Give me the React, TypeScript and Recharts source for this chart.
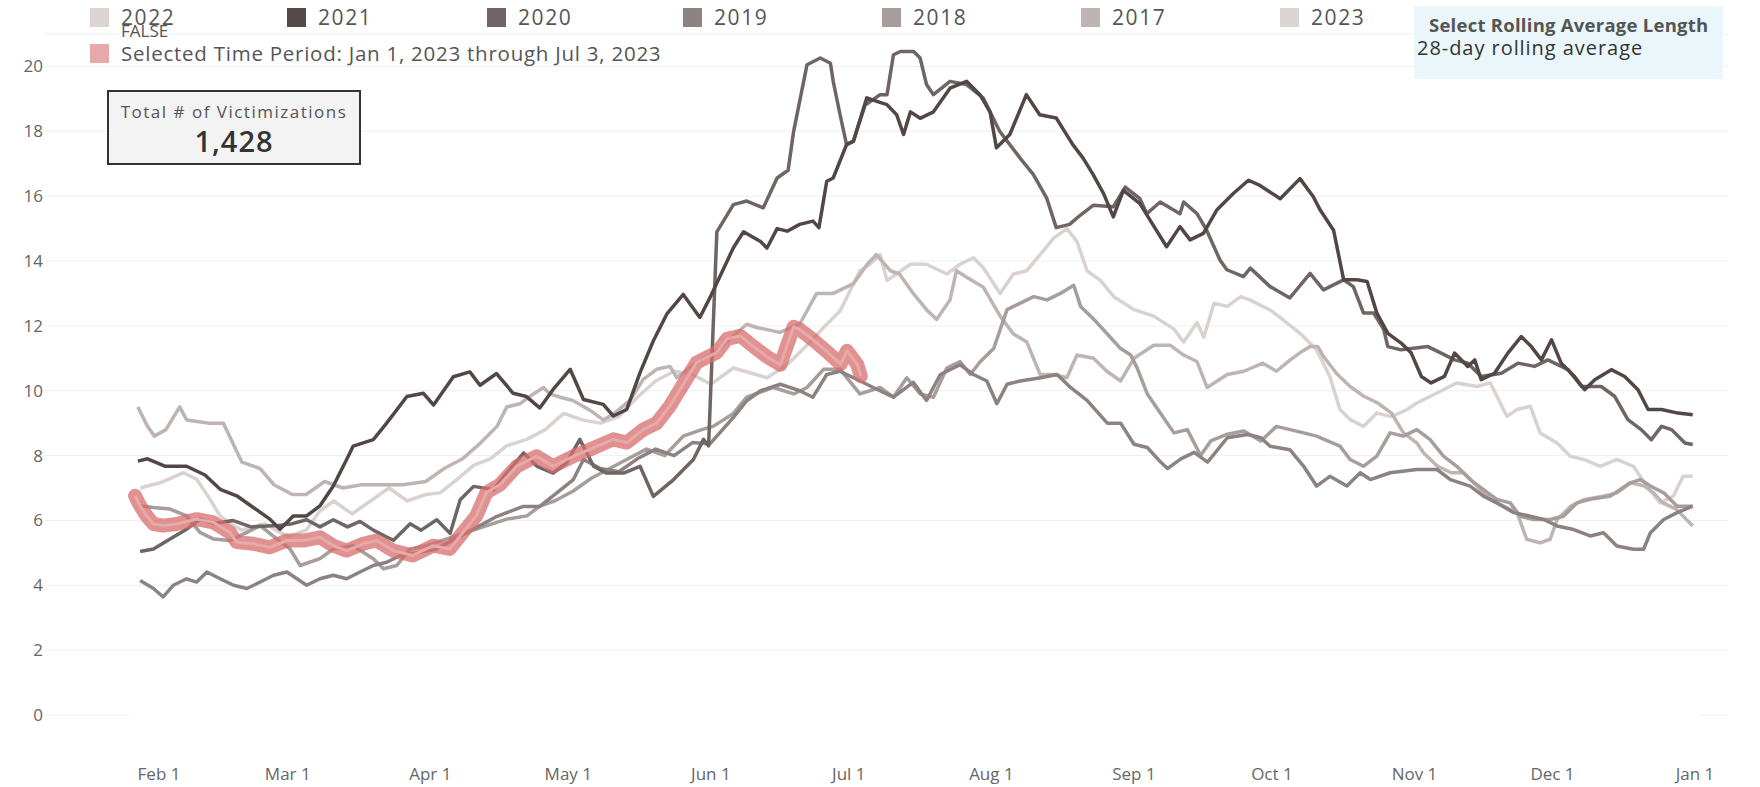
import React from 'react';
import { LineChart, Line, XAxis, YAxis, CartesianGrid, ReferenceLine } from 'recharts';

// day of year -> 28-day rolling average of victimizations per day
const MONTH_TICKS = [32, 60, 91, 121, 152, 182, 213, 244, 274, 305, 335, 366];
const MONTH_LABELS = ['Feb 1', 'Mar 1', 'Apr 1', 'May 1', 'Jun 1', 'Jul 1', 'Aug 1', 'Sep 1', 'Oct 1', 'Nov 1', 'Dec 1', 'Jan 1'];
const Y_TICKS = [0, 2, 4, 6, 8, 10, 12, 14, 16, 18, 20];

const y2022: [number, number][] = [
  [27.9, 7.0], [32.2, 7.16], [37.3, 7.47], [40.2, 7.27], [43.1, 6.65], [45.3, 6.14], [48.2, 5.84], [50, 5.7], [55, 5.9], [60, 5.5],
  [64, 5.7], [67, 6.3], [70, 6.6], [74, 6.2], [78, 6.6], [82, 7.0], [86, 6.6], [90, 6.8], [93.1, 6.85], [96.7, 7.25],
  [100.4, 7.7], [104, 7.9], [107.6, 8.3], [112, 8.5], [116, 8.8], [120, 9.3], [124, 9.1], [128, 9.0], [132, 9.2], [136, 9.8],
  [140, 10.3], [144, 10.6], [148, 10.5], [152, 10.2], [156.9, 10.7], [164.2, 10.4], [168.6, 10.8], [172.9, 11.4], [177.2, 12.05], [180.1, 12.46],
  [184.4, 13.7], [186.6, 13.9], [188.8, 14.2], [190.3, 13.4], [195.4, 13.9], [198.9, 13.9], [203.3, 13.6], [206.2, 13.9], [209.1, 14.1], [211.2, 13.8],
  [214.9, 13.0], [217.8, 13.6], [220.7, 13.7], [223.6, 14.2], [226.5, 14.7], [229.4, 15.0], [231.6, 14.6], [233.8, 13.7], [236.7, 13.4], [239.6, 12.9],
  [244, 12.5], [248.3, 12.3], [252.7, 11.9], [254.8, 11.5], [257.7, 12.1], [259.2, 11.65], [261.4, 12.7], [264.3, 12.6], [267.2, 12.9], [269.2, 12.8],
  [273.6, 12.49], [276.5, 12.18], [280.1, 11.77], [283.7, 11.26], [286.6, 10.44], [288.8, 9.42], [291, 9.11], [293.9, 8.9], [296.8, 9.31], [300, 9.2],
  [303.4, 9.42], [305.5, 9.62], [309.9, 9.93], [314.2, 10.24], [318.6, 10.13], [321.5, 10.24], [325.1, 9.21], [327.3, 9.42], [330.2, 9.52], [332.3, 8.7],
  [336, 8.39], [338.9, 7.98], [341.8, 7.88], [345.4, 7.67], [349, 7.88], [352.6, 7.67], [355.5, 7.06], [358.4, 6.54], [361.3, 6.75], [363.4, 7.36], [365.5, 7.36],
];

const y2017: [number, number][] = [
  [27.4, 9.5], [29.5, 8.9], [31, 8.6], [33.5, 8.8], [36.5, 9.5], [38, 9.1], [43, 9.0], [46, 9.0], [50, 7.8], [54, 7.6],
  [57, 7.1], [61, 6.8], [64, 6.8], [68, 7.2], [72, 7.0], [76, 7.1], [80, 7.1], [85, 7.1], [90, 7.2], [94, 7.6],
  [98, 7.9], [102, 8.4], [105.5, 8.9], [107.6, 9.5], [110.5, 9.6], [113.4, 9.9], [115.6, 10.1], [117, 9.9], [119.2, 9.8], [122, 9.7],
  [125.7, 9.4], [128.6, 9.1], [131, 9.3], [134.4, 9.7], [137.3, 10.35], [140.2, 10.66], [143.1, 10.75], [144.6, 10.4], [148.2, 10.8], [153, 11.2],
  [159.8, 12.05], [162, 11.95], [167, 11.8], [171.3, 12.05], [175, 13.0], [178.6, 13.0], [183, 13.3], [186, 13.9], [188, 14.2], [191, 13.7],
  [193, 13.6], [196, 13.0], [198.9, 12.5], [201.1, 12.2], [204, 12.8], [205.4, 13.7], [207.6, 13.5], [211.2, 13.2], [214.9, 12.3], [217.8, 11.75],
  [220.7, 11.5], [223.6, 10.5], [226.5, 10.5], [229.4, 10.4], [231.6, 11.1], [235.2, 11.0], [238.1, 10.6], [241.1, 10.3], [244, 11.0], [248.3, 11.4],
  [251.9, 11.4], [254.8, 11.1], [257.7, 10.9], [259.9, 10.1], [264.3, 10.5], [267.9, 10.6], [272, 10.85], [275, 10.6], [278, 10.95], [280, 11.16],
  [282.3, 11.36], [284, 11.36], [285.2, 11.06], [288, 10.54], [291, 10.13], [294, 9.83], [297, 9.62], [300, 9.31], [302.6, 8.7], [305.5, 8.39],
  [307, 8.08], [310, 7.67], [313, 7.47], [315.7, 7.47], [318.6, 7.06], [321.5, 6.65], [324.4, 6.44], [327.3, 6.24], [329.4, 5.42], [332.3, 5.31],
  [334.5, 5.42], [336, 6.03], [339, 6.44], [342, 6.65], [346, 6.75], [349, 6.85], [352, 7.16], [355, 7.06], [357, 6.85], [359, 6.54], [362, 6.34], [365.5, 5.83],
];

const y2018: [number, number][] = [
  [27.9, 6.45], [30.8, 6.4], [34.4, 6.35], [38, 6.14], [40.9, 5.63], [43.8, 5.43], [47.4, 5.38], [51.1, 5.63], [54, 5.84], [57.6, 5.43],
  [60.5, 5.12], [62.7, 4.61], [67, 4.82], [69.9, 5.12], [74.2, 5.22], [78.6, 4.82], [80.8, 4.51], [83.7, 4.61], [86.6, 5.12], [90.2, 5.22],
  [94.6, 5.43], [98.9, 5.63], [103.3, 5.84], [107.6, 6.04], [112, 6.14], [114.9, 6.45], [118, 6.6], [122, 6.9], [126, 7.3], [130, 7.6],
  [134, 7.9], [138, 8.2], [142, 8.0], [146, 8.6], [150, 8.8], [152.5, 8.9], [156.9, 9.3], [159.8, 9.8], [165.6, 10.1], [170, 9.9],
  [172.9, 10.1], [176.5, 10.66], [180.1, 10.66], [184.4, 9.9], [188.8, 10.1], [191.7, 9.8], [194.6, 10.4], [197.5, 9.9], [200.4, 9.8], [203.3, 10.7],
  [206.2, 10.9], [208.4, 10.5], [210.6, 10.9], [213.5, 11.3], [216.4, 12.5], [222.2, 12.9], [225.1, 12.8], [228, 13.0], [230.9, 13.25], [232.4, 12.6],
  [235.3, 12.2], [238.2, 11.75], [241.1, 11.3], [243.3, 11.1], [244.7, 10.7], [246.9, 9.9], [249.8, 9.3], [252.7, 8.7], [255.6, 8.8], [258.5, 8.0],
  [260.7, 8.45], [264.3, 8.66], [267.9, 8.76], [271.6, 8.45], [275, 8.9], [280.9, 8.7], [283.7, 8.6], [288.8, 8.29], [291, 7.88], [293.9, 7.67],
  [296.8, 7.98], [299.7, 8.7], [302.6, 8.6], [305.5, 8.8], [308.4, 8.49], [311.3, 7.98], [314.2, 7.67], [317.1, 7.26], [320, 6.95], [322.9, 6.65],
  [325.8, 6.54], [328, 6.13], [330.9, 6.03], [334.5, 6.03], [337.4, 6.13], [340.3, 6.54], [343.2, 6.65], [347.6, 6.75], [351.9, 7.16], [354.1, 7.26],
  [356.3, 7.06], [359.2, 6.85], [362.1, 6.44], [365.5, 6.44],
];

const y2019: [number, number][] = [
  [27.9, 4.15], [30.8, 3.9], [32.9, 3.64], [35.1, 4.0], [38, 4.2], [40.2, 4.1], [42.4, 4.41], [45.3, 4.2], [48.2, 4.0], [51.1, 3.9],
  [54, 4.1], [56.9, 4.31], [59.8, 4.41], [62, 4.2], [64.1, 4.0], [67, 4.2], [69.9, 4.31], [72.8, 4.2], [75.7, 4.41], [78.6, 4.61],
  [81.5, 4.71], [84.5, 4.92], [88, 5.0], [92, 5.1], [96, 5.4], [100, 5.7], [105.4, 6.12], [111.2, 6.43], [114.8, 6.43], [118.5, 6.85],
  [122.1, 7.26], [124.3, 7.88], [128, 7.6], [132, 7.5], [136, 7.9], [140, 8.2], [144, 8.0], [148, 8.4], [151.8, 8.36], [156.9, 9.18],
  [159.8, 9.69], [162.8, 10.0], [167.1, 10.2], [171.3, 10.0], [174.2, 9.8], [177.2, 10.5], [180.1, 10.6], [183, 10.4], [185.9, 10.2], [187.3, 10.1],
  [191.7, 9.8], [196, 10.26], [198.9, 9.7], [201.9, 10.5], [206.2, 10.8], [209.1, 10.5], [212, 10.3], [214.2, 9.6], [216.4, 10.2], [219.3, 10.3],
  [223.7, 10.4], [227.3, 10.5], [230.2, 10.1], [233.8, 9.7], [238.2, 9.0], [241.1, 9.0], [244, 8.35], [246.9, 8.25], [249.8, 7.8], [251.3, 7.6],
  [254.2, 7.9], [257.1, 8.1], [260, 7.8], [264.3, 8.55], [268.7, 8.65], [271.6, 8.55], [273.6, 8.29], [277.9, 8.18], [280.9, 7.67], [283.7, 7.06],
  [286.6, 7.36], [290.3, 7.06], [293.2, 7.47], [295.4, 7.26], [299.7, 7.47], [305.5, 7.57], [309.9, 7.57], [312.8, 7.26], [317.1, 7.06], [320, 6.75],
  [322.9, 6.54], [326.6, 6.24], [330.2, 6.13], [333.1, 6.03], [336, 5.83], [339.6, 5.72], [343.2, 5.52], [346.1, 5.62], [349, 5.21], [352.6, 5.11],
  [354.8, 5.11], [356.3, 5.62], [359.2, 6.03], [362.1, 6.24], [365.5, 6.44],
];

const y2020: [number, number][] = [
  [27.9, 5.04], [30.8, 5.12], [34.4, 5.43], [38, 5.73], [40.9, 6.04], [44, 5.9], [48, 6.0], [52, 5.8], [57.6, 5.84], [61, 5.9],
  [64.1, 6.02], [67, 5.8], [69.9, 6.02], [73, 5.8], [75.7, 5.97], [78.6, 5.7], [81.5, 5.49], [83, 5.39], [86.6, 5.9], [89, 5.7],
  [92.4, 6.02], [95.3, 5.6], [97.5, 6.64], [100.4, 7.05], [104.7, 6.95], [107.6, 7.46], [111.3, 8.08], [114.2, 7.67], [117.7, 7.46], [120.6, 7.77],
  [123.5, 8.5], [126.5, 7.67], [129.3, 7.46], [133, 7.46], [136.6, 7.67], [139.5, 6.74], [143.9, 7.26], [148.2, 7.88], [150.4, 8.5], [151.5, 8.3],
  [153.3, 14.9], [156.9, 15.74], [159.8, 15.85], [163.4, 15.64], [166.4, 16.56], [168.8, 16.8], [170, 18.0], [172.9, 20.05], [175.8, 20.26], [178, 20.1],
  [178.6, 19.54], [180.1, 18.51], [181.5, 17.59], [183, 17.7], [185.5, 18.8], [188.8, 19.13], [190.3, 19.13], [191.7, 20.36], [193.2, 20.46], [196.1, 20.46],
  [197.5, 20.26], [198.9, 19.44], [200.4, 19.13], [204, 19.54], [207.6, 19.44], [211.2, 19.03], [214.8, 18.0], [219.2, 17.18], [222.1, 16.67], [225, 15.95],
  [227.1, 15.03], [230, 15.13], [232.3, 15.41], [235.2, 15.72], [239.5, 15.67], [242.1, 16.28], [245.3, 15.92], [246.8, 15.46], [249.7, 15.82], [254, 15.46],
  [254.8, 15.82], [257.7, 15.46], [259.8, 14.95], [262.7, 14.03], [264.2, 13.73], [267.8, 13.52], [269.3, 13.78], [273.6, 13.21], [277.9, 12.86], [282.3, 13.62],
  [285.2, 13.11], [289.6, 13.42], [291.7, 13.21], [293.9, 12.4], [296.1, 12.4], [298.3, 11.89], [299.2, 11.36], [302.1, 11.26], [307.9, 11.36], [310.8, 11.16],
  [313.7, 10.95], [316.6, 10.85], [319.5, 10.44], [323.9, 10.54], [327.5, 10.85], [331.1, 10.75], [334, 10.95], [338.4, 10.65], [341.3, 10.13], [345.6, 10.13],
  [348.5, 9.83], [351.4, 9.11], [354.3, 8.8], [356.5, 8.49], [358.7, 8.9], [360.9, 8.8], [363.8, 8.39], [365.5, 8.34],
];

const y2021: [number, number][] = [
  [27.4, 7.83], [29.5, 7.9], [33.4, 7.67], [38, 7.67], [42, 7.4], [45.3, 6.96], [48.9, 6.76], [52.5, 6.4], [56.1, 6.04], [58.3, 5.73],
  [61.2, 6.14], [64.1, 6.14], [67, 6.45], [69.9, 7.06], [72.8, 7.88], [74.2, 8.29], [78.6, 8.49], [81.5, 9.0], [85.9, 9.82], [89.5, 9.92],
  [91.7, 9.56], [96, 10.43], [99.6, 10.58], [101.8, 10.17], [105.4, 10.53], [109, 9.92], [111.9, 9.82], [114.8, 9.47], [117.7, 10.04], [121.4, 10.66],
  [124.3, 9.73], [128.6, 9.58], [130.8, 9.22], [133.7, 9.42], [136.6, 10.56], [139.5, 11.54], [142.4, 12.36], [146, 12.97], [149.6, 12.26], [151.8, 12.87],
  [156.9, 14.41], [159.1, 14.9], [162.8, 14.6], [164.2, 14.4], [166.4, 15.0], [168.6, 14.92], [171.3, 15.13], [174.2, 15.23], [175.5, 15.03], [177.2, 16.46],
  [178.6, 16.56], [181.5, 17.59], [183, 17.69], [185.9, 19.03], [188.1, 18.92], [190.3, 18.82], [192.4, 18.51], [193.9, 17.9], [195.4, 18.6], [197.5, 18.4],
  [200.4, 18.6], [204, 19.33], [207.6, 19.54], [210.5, 19.13], [212.7, 18.6], [214.1, 17.49], [217, 17.9], [220.6, 19.13], [223.5, 18.51], [227.1, 18.41],
  [230.7, 17.59], [232.9, 17.18], [235.1, 16.67], [237.4, 16.08], [239.5, 15.36], [241.7, 16.18], [245.3, 15.77], [247.5, 15.26], [251.1, 14.44], [254, 15.06],
  [256.2, 14.65], [259.1, 14.85], [262, 15.57], [265.6, 16.08], [268.9, 16.49], [271.4, 16.33], [275.8, 15.92], [280.1, 16.54], [283, 15.98], [284.5, 15.57],
  [287.4, 14.95], [289.6, 13.42], [292.5, 13.42], [294.7, 13.37], [296.8, 12.4], [299.2, 11.77], [302.1, 11.47], [304.3, 11.16], [306.5, 10.44], [308.6, 10.24],
  [311.5, 10.44], [313.7, 11.16], [316.6, 10.75], [318.1, 10.95], [319.5, 10.34], [322.4, 10.54], [325.3, 11.16], [328.2, 11.67], [330.4, 11.36], [332.6, 10.95],
  [334.8, 11.57], [336.9, 10.85], [339.8, 10.44], [342, 10.03], [344.2, 10.34], [347.8, 10.65], [350.7, 10.44], [353.6, 10.03], [355.8, 9.42], [358.7, 9.42],
  [362.3, 9.31], [365.5, 9.26],
];

// 2023 runs Jan 1 - Jul 3 (the selected time period)
const y2023: [number, number][] = [
  [26.8, 6.76], [27.9, 6.45], [29.3, 6.14], [30.8, 5.89], [32.9, 5.84], [35.8, 5.89], [40.2, 6.04], [43.8, 5.94], [47.4, 5.63], [48.9, 5.33],
  [52.5, 5.28], [56.1, 5.17], [59.8, 5.38], [63.4, 5.38], [67, 5.48], [69.9, 5.22], [72.8, 5.07], [76.4, 5.28], [79.3, 5.38], [82.9, 5.07],
  [87.2, 4.92], [91.6, 5.22], [95.2, 5.12], [98.1, 5.63], [101, 6.14], [103.2, 6.86], [106.1, 7.1], [109.8, 7.67], [114.1, 7.98], [117.7, 7.67],
  [122.1, 7.98], [125.7, 8.19], [130.8, 8.5], [133.7, 8.4], [137.3, 8.8], [140.2, 9.0], [143.1, 9.53], [145.3, 10.04], [148.9, 10.87], [153.3, 11.18],
  [155.5, 11.6], [158.4, 11.69], [161.3, 11.36], [164.2, 11.05], [167.1, 10.8], [170, 11.97], [171.4, 11.88], [174.3, 11.56], [177.3, 11.2], [180.2, 10.82],
  [181.6, 11.23], [183.8, 10.82], [184.6, 10.45],
];

const SERIES = [
  { name: '2022', color: '#d9d2d1', data: y2022 },
  { name: '2017', color: '#bdb4b3', data: y2017 },
  { name: '2018', color: '#a69d9c', data: y2018 },
  { name: '2019', color: '#8c8281', data: y2019 },
  { name: '2020', color: '#6f6564', data: y2020 },
  { name: '2021', color: '#524746', data: y2021 },
];

const LEGEND = [
  { name: '2022', color: '#dbd4d3', left: 90 },
  { name: '2021', color: '#554a49', left: 287 },
  { name: '2020', color: '#6f6564', left: 487 },
  { name: '2019', color: '#8c8281', left: 683 },
  { name: '2018', color: '#a69d9c', left: 882 },
  { name: '2017', color: '#bdb4b3', left: 1081 },
  { name: '2023', color: '#dcd4d3', left: 1280 },
];

const FONT = "'Open Sans', Lato, sans-serif";

const styles = {
  page: {
    position: 'absolute',
    left: 0,
    top: 0,
    width: 1760,
    height: 787,
    background: '#fff',
    overflow: 'hidden',
    fontFamily: FONT,
  } as React.CSSProperties,
  swatch: {
    position: 'absolute',
    width: 19,
    height: 19,
  } as React.CSSProperties,
  legendText: {
    position: 'absolute',
    fontSize: 20,
    color: '#555',
    lineHeight: '20px',
    whiteSpace: 'nowrap',
  } as React.CSSProperties,
  totalBox: {
    position: 'absolute',
    left: 107,
    top: 90,
    width: 254,
    height: 75,
    boxSizing: 'border-box',
    border: '2px solid #333',
    background: '#f3f3f3',
    textAlign: 'center',
  } as React.CSSProperties,
  rollingBox: {
    position: 'absolute',
    left: 1414,
    top: 6,
    width: 309,
    height: 73,
    background: '#eaf6f9',
  } as React.CSSProperties,
};

const toRows = (pairs: [number, number][]) => pairs.map(([day, value]) => ({ day, value }));

const MonthTick = (props: any) => {
  const { x, y, payload } = props;
  const label = MONTH_LABELS[MONTH_TICKS.indexOf(payload.value)];
  return (
    <text x={x} y={y + 57} textAnchor="middle" fill="#666" fontSize={17} fontFamily={FONT}>
      {label}
    </text>
  );
};

const ValueTick = (props: any) => {
  const { y, payload } = props;
  return (
    <text x={43} y={y + 6} textAnchor="end" fill="#666" fontSize={17} fontFamily={FONT}>
      {payload.value}
    </text>
  );
};

const App = () => {
  return (
    <div style={styles.page}>
      <LineChart width={1760} height={787} margin={{ top: 34, right: 32, bottom: 0, left: 0 }}>
        <CartesianGrid vertical={false} stroke="#efefef" />
        <XAxis
          dataKey="day"
          type="number"
          domain={[7.21, 373.17]}
          ticks={MONTH_TICKS}
          allowDataOverflow
          axisLine={false}
          tickLine={false}
          height={72}
          tick={MonthTick}
          interval={0}
        />
        <YAxis
          type="number"
          domain={[0, 21]}
          ticks={Y_TICKS}
          axisLine={false}
          tickLine={false}
          width={45}
          tick={ValueTick}
          interval={0}
        />
        <ReferenceLine segment={[{ x: 25.6, y: 0 }, { x: 367, y: 0 }]} stroke="#fff" strokeWidth={3} />
        {SERIES.map(s => (
          <Line
            key={s.name}
            data={toRows(s.data)}
            dataKey="value"
            name={s.name}
            type="linear"
            stroke={s.color}
            strokeWidth={3.5}
            strokeLinejoin="round"
            dot={false}
            activeDot={false}
            isAnimationActive={false}
          />
        ))}
        <Line
          data={toRows(y2023)}
          dataKey="value"
          name="Selected Time Period"
          type="linear"
          stroke="#d86c6c"
          strokeOpacity={0.75}
          strokeWidth={14}
          strokeLinecap="round"
          strokeLinejoin="round"
          dot={false}
          activeDot={false}
          isAnimationActive={false}
        />
        <Line
          data={toRows(y2023)}
          dataKey="value"
          name="2023"
          type="linear"
          stroke="#e6aaaa"
          strokeWidth={3}
          strokeLinejoin="round"
          dot={false}
          activeDot={false}
          isAnimationActive={false}
        />
      </LineChart>

      {LEGEND.map(item => (
        <React.Fragment key={item.name}>
          <div style={{ ...styles.swatch, left: item.left, top: 8, background: item.color }} />
          <div style={{ ...styles.legendText, left: item.left + 31, top: 7, fontSize: 21, letterSpacing: 1.6 }}>{item.name}</div>
        </React.Fragment>
      ))}
      <div style={{ ...styles.legendText, left: 121, top: 22, fontSize: 17, lineHeight: '17px' }}>FALSE</div>
      <div style={{ ...styles.swatch, left: 90, top: 44, background: '#e6a9a9' }} />
      <div style={{ ...styles.legendText, left: 121, top: 43, fontSize: 20.5, letterSpacing: 0.75 }}>
        Selected Time Period: Jan 1, 2023 through Jul 3, 2023
      </div>

      <div style={styles.totalBox}>
        <div style={{ fontSize: 17, color: '#555', marginTop: 8, letterSpacing: 1.5, whiteSpace: 'nowrap' }}>Total # of Victimizations</div>
        <div style={{ fontSize: 29, color: '#333', fontWeight: 600, marginTop: -2, letterSpacing: 1 }}>1,428</div>
      </div>

      <div style={styles.rollingBox}>
        <div style={{ position: 'absolute', left: 15, top: 6, fontSize: 18.5, fontWeight: 700, color: '#555', letterSpacing: 0.25, whiteSpace: 'nowrap' }}>
          Select Rolling Average Length
        </div>
        <div style={{ position: 'absolute', left: 3, top: 28, fontSize: 20, color: '#333', letterSpacing: 0.95, whiteSpace: 'nowrap' }}>
          28-day rolling average
        </div>
      </div>
    </div>
  );
};

export default App;
